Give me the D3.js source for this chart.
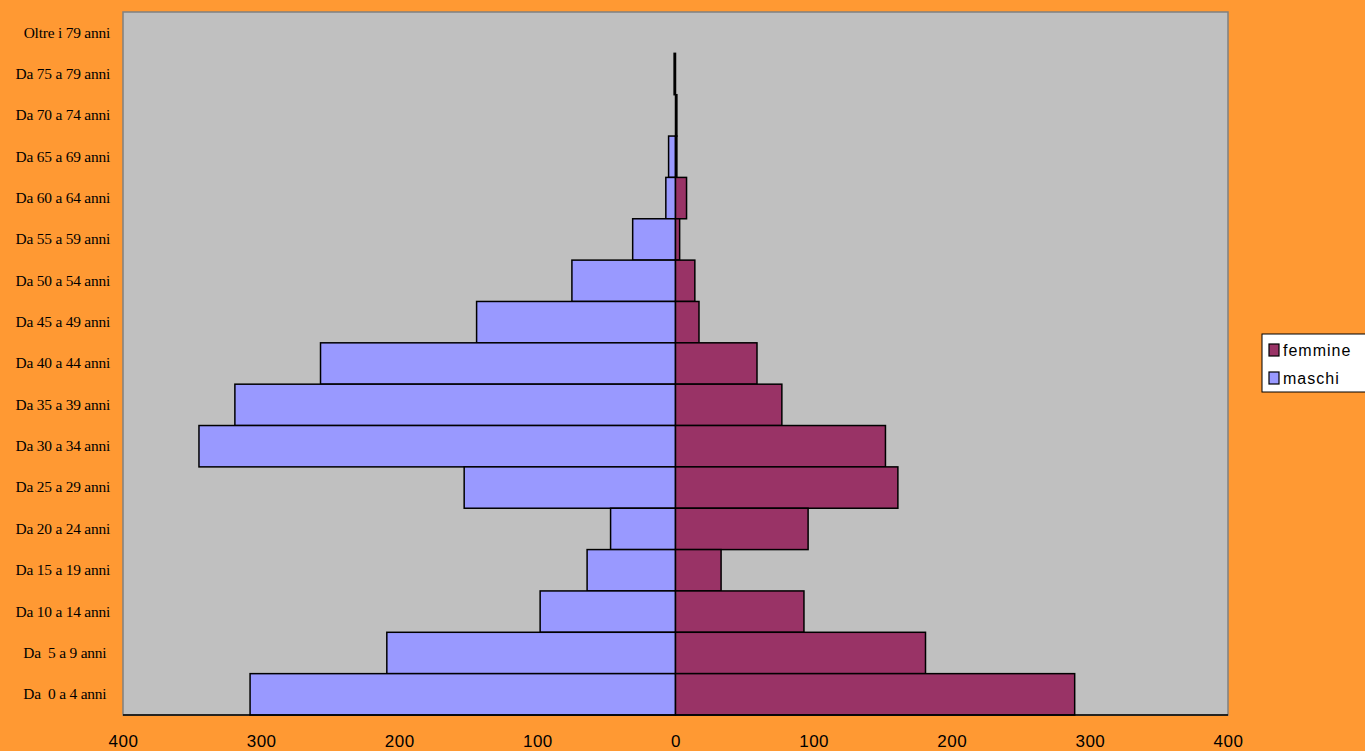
<!DOCTYPE html>
<html><head><meta charset="utf-8">
<script src="https://cdn.jsdelivr.net/npm/d3@7"></script>
<style>html,body{margin:0;padding:0;background:#FF9933;overflow:hidden}</style>
</head><body>
<svg id="c" width="1365" height="751"></svg>
<script>
const categories = ["Oltre i 79 anni","Da 75 a 79 anni","Da 70 a 74 anni","Da 65 a 69 anni","Da 60 a 64 anni","Da 55 a 59 anni","Da 50 a 54 anni","Da 45 a 49 anni","Da 40 a 44 anni","Da 35 a 39 anni","Da 30 a 34 anni","Da 25 a 29 anni","Da 20 a 24 anni","Da 15 a 19 anni","Da 10 a 14 anni","Da  5 a 9 anni ","Da  0 a 4 anni "];
const maschi =  [0, 1, 0, 5, 7, 31, 75, 144, 257, 319, 345, 153, 47, 64, 98, 209, 308];
const femmine = [0, 0, 1, 1, 8, 3, 14, 17, 59, 77, 152, 161, 96, 33, 93, 181, 289];
const tickValues = [-400,-300,-200,-100,0,100,200,300,400];
const seriesNames = ["femmine","maschi"];
const colors = {femmine:"#993366", maschi:"#9999FF"};

const svg = d3.select("#c");
const L=123, R=1228, T=12, B=715;
const x = d3.scaleLinear().domain([-400,400]).range([L,R]);
const y = d3.scaleBand().domain(categories).range([T,B]).padding(0);

svg.append("rect").attr("x",L).attr("y",T).attr("width",R-L).attr("height",B-T)
  .attr("fill","#C0C0C0").attr("stroke","#808080").attr("stroke-width",1.5);

const g = svg.append("g");
g.selectAll("rect.m").data(categories).join("rect").attr("class","m")
  .attr("x",(d,i)=>x(-maschi[i])).attr("y",d=>y(d))
  .attr("width",(d,i)=>x(0)-x(-maschi[i])).attr("height",y.bandwidth())
  .attr("fill",colors.maschi).attr("stroke","#000").attr("stroke-width",1.5);
g.selectAll("rect.f").data(categories).join("rect").attr("class","f")
  .attr("x",x(0)).attr("y",d=>y(d))
  .attr("width",(d,i)=>x(femmine[i])-x(0)).attr("height",y.bandwidth())
  .attr("fill",colors.femmine).attr("stroke","#000").attr("stroke-width",1.5);

svg.append("line").attr("x1",L).attr("x2",R).attr("y1",B).attr("y2",B).attr("stroke","#000").attr("stroke-width",1.5);

const ya = svg.append("g").attr("transform",`translate(110,0)`)
  .call(d3.axisLeft(y).tickSize(0).tickPadding(0));
ya.select(".domain").remove();
ya.selectAll("text").attr("font-family","'Liberation Serif','Times New Roman',serif")
  .attr("font-size",15.4).attr("fill","#000").style("white-space","pre").attr("letter-spacing","-0.2px");

const xa = svg.append("g").attr("transform",`translate(0,${B})`)
  .call(d3.axisBottom(x).tickValues(tickValues).tickFormat(d=>Math.abs(d)).tickSize(0).tickPadding(20));
xa.select(".domain").remove();
xa.selectAll("text").attr("font-family","'Liberation Sans',Arial,sans-serif").attr("font-size",17).attr("fill","#000").attr("letter-spacing","0.5px");

const lg = svg.append("g");
lg.append("rect").attr("x",1262).attr("y",334).attr("width",110).attr("height",58).attr("fill","#fff").attr("stroke","#000").attr("stroke-width",1);
seriesNames.forEach((n,i)=>{
  const cy = 350 + i*28;
  lg.append("rect").attr("x",1269).attr("y",cy-6).attr("width",10).attr("height",12).attr("fill",colors[n]).attr("stroke","#000").attr("stroke-width",1.2);
  lg.append("text").attr("x",1283).attr("y",cy).attr("dy","0.36em").text(n)
    .attr("font-family","'Liberation Sans',Arial,sans-serif").attr("font-size",16).attr("letter-spacing","1px");
});
</script>
</body></html>
